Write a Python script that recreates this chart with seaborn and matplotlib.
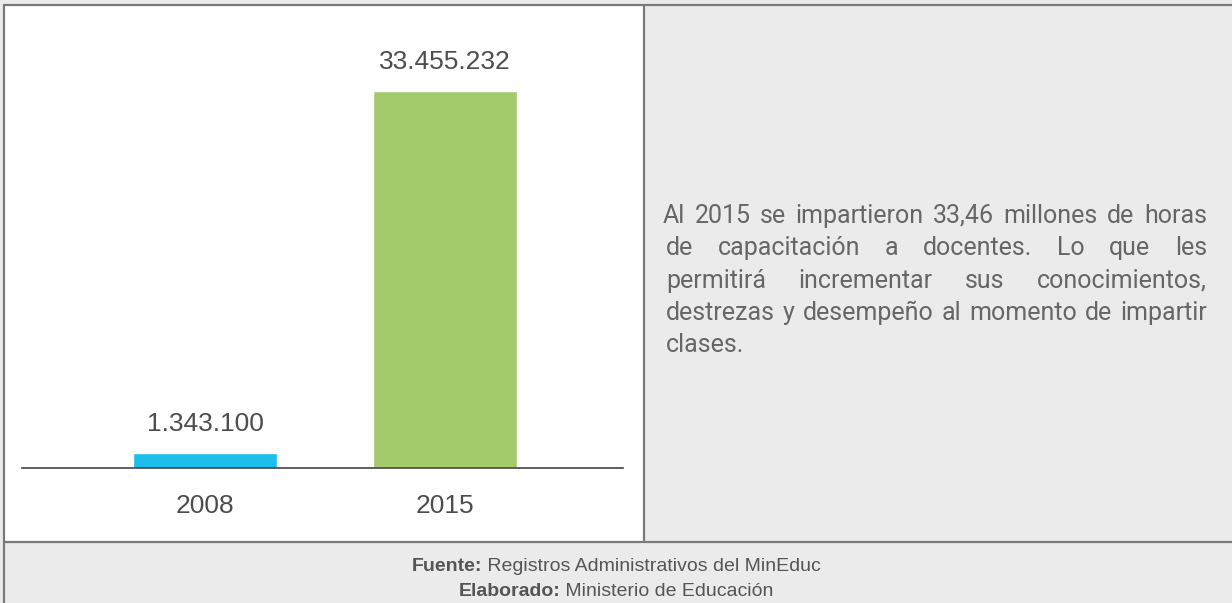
import matplotlib
matplotlib.use("Agg")
import matplotlib.pyplot as plt
from matplotlib.lines import Line2D
from matplotlib.patches import Rectangle
import seaborn as sns

# data
years = ["2008", "2015"]
horas = [1343100, 33455232]
bar_colors = ["#1dbdec", "#a3cb6c"]

texto = [
    "Al 2015 se impartieron 33,46 millones de horas",
    "de capacitación a docentes. Lo que les",
    "permitirá incrementar sus conocimientos,",
    "destrezas y desempeño al momento de impartir",
    "clases.",
]
fuente = ("Fuente:", " Registros Administrativos del MinEduc")
elaborado = ("Elaborado:", " Ministerio de Educación")

W, H = 1232, 603
sns.set_style("white")
plt.rcParams["font.family"] = ["Liberation Sans", "DejaVu Sans"]

fig = plt.figure(figsize=(W / 100, H / 100), dpi=100, facecolor="#ebebeb")


def fx(px):
    return px / W


def fy(py):
    return 1 - py / H


# panels and borders
fig.patches.append(Rectangle((fx(5), fy(542)), fx(644) - fx(5), fy(5) - fy(542),
                             transform=fig.transFigure, facecolor="white", edgecolor="none", zorder=-5))
border = dict(transform=fig.transFigure, color="#7a7a7a", lw=1.6)
fig.add_artist(Line2D([fx(4), 1], [fy(5), fy(5)], **border))
fig.add_artist(Line2D([fx(4), fx(4)], [fy(5), 0], **border))
fig.add_artist(Line2D([fx(644), fx(644)], [fy(5), fy(542)], **border))
fig.add_artist(Line2D([fx(4), 1], [fy(542), fy(542)], **border))

# bar chart
ax = fig.add_axes([fx(22), fy(468), fx(623) - fx(22), fy(6) - fy(468)])
ax.set_zorder(2)
ax.patch.set_alpha(0)
sns.barplot(x=years, y=horas, hue=years, palette=bar_colors, width=0.6,
            legend=False, saturation=1, ax=ax)
ax.set_xlim(-0.7625, 1.7417)
ax.set_ylim(0, 41000000)
sns.despine(ax=ax, left=True)
ax.spines["bottom"].set_color("#444444")
ax.spines["bottom"].set_linewidth(1.2)
ax.set_yticks([])
ax.set_ylabel("")
ax.tick_params(axis="x", length=0, pad=19, labelsize=19, labelcolor="#4d4d4d")
for cont in ax.containers:
    ax.bar_label(cont, labels=[f"{int(v):,}".replace(",", ".") for v in cont.datavalues],
                 padding=12, fontsize=19, color="#4d4d4d")

# justified paragraph on the right
fig.canvas.draw()
renderer = fig.canvas.get_renderer()
tfont = dict(family=["Roboto", "DejaVu Sans"], fontsize=18, color="#666666")
x0, x1 = 663, 1207
y_first, step = 223, 32.3
for i, line in enumerate(texto):
    y = fy(y_first + i * step)
    left = x0 if i == 0 else x0 + 3
    words = line.split(" ")
    if i == len(texto) - 1 or len(words) == 1:
        fig.text(fx(left), y, line, va="baseline", ha="left", **tfont)
        continue
    arts = [fig.text(0, y, w, va="baseline", ha="left", **tfont) for w in words]
    widths = [a.get_window_extent(renderer).width for a in arts]
    gap = (x1 - left - sum(widths)) / (len(words) - 1)
    x = left
    for a, w in zip(arts, widths):
        a.set_x(fx(x))
        x += w + gap

# footer
ffont = dict(fontsize=14, color="#555555", va="baseline", ha="left")
for (bold, rest), ypx in [(fuente, 571), (elaborado, 596)]:
    t1 = fig.text(0, fy(ypx), bold, fontweight="bold", **ffont)
    t2 = fig.text(0, fy(ypx), rest, **ffont)
    w1 = t1.get_window_extent(renderer).width
    w2 = t2.get_window_extent(renderer).width
    start = 616 - (w1 + w2) / 2
    t1.set_x(fx(start))
    t2.set_x(fx(start + w1))

fig.savefig("out.png", dpi=100, facecolor=fig.get_facecolor())
